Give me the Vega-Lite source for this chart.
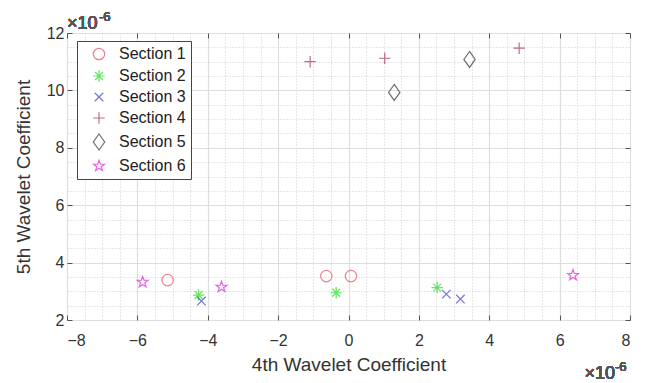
{
  "$schema": "https://vega.github.io/schema/vega-lite/v6.json",
  "autosize": "none",
  "width": 563,
  "height": 287,
  "padding": {"left": 67, "top": 33, "right": 15, "bottom": 63},
  "background": "white",
  "config": {
    "font": "Liberation Sans",
    "view": {"stroke": "#555", "strokeWidth": 1}
  },
  "data": {
    "values": [
      {"section": "Section 1", "x": -5.14, "y": 3.39},
      {"section": "Section 1", "x": -0.63, "y": 3.53},
      {"section": "Section 1", "x": 0.07, "y": 3.53},
      {"section": "Section 2", "x": -4.26, "y": 2.87},
      {"section": "Section 2", "x": -0.35, "y": 2.95},
      {"section": "Section 2", "x": 2.52, "y": 3.13},
      {"section": "Section 3", "x": -4.18, "y": 2.66},
      {"section": "Section 3", "x": 2.78, "y": 2.9},
      {"section": "Section 3", "x": 3.18, "y": 2.73},
      {"section": "Section 4", "x": -1.09, "y": 11.0},
      {"section": "Section 4", "x": 1.03, "y": 11.12},
      {"section": "Section 4", "x": 4.85, "y": 11.47},
      {"section": "Section 5", "x": 1.3, "y": 9.93},
      {"section": "Section 5", "x": 3.44, "y": 11.08},
      {"section": "Section 6", "x": -5.85, "y": 3.32},
      {"section": "Section 6", "x": -3.61, "y": 3.15},
      {"section": "Section 6", "x": 6.38, "y": 3.56}
    ]
  },
  "resolve": {"axis": {"x": "independent", "y": "independent"}},
  "layer": [
    {
      "mark": {"type": "point", "opacity": 0},
      "encoding": {
        "x": {"field": "x", "type": "quantitative", "scale": {"domain": [-8, 8], "nice": false, "zero": false},
          "axis": {"orient": "bottom", "values": [-8,-7.5,-7,-6.5,-6,-5.5,-5,-4.5,-4,-3.5,-3,-2.5,-2,-1.5,-1,-0.5,0,0.5,1,1.5,2,2.5,3,3.5,4,4.5,5,5.5,6,6.5,7,7.5,8],
            "grid": true, "gridDash": [1, 2], "gridColor": "#cfcfcf", "labels": false, "ticks": false, "domain": false, "title": null}},
        "y": {"field": "y", "type": "quantitative", "scale": {"domain": [2, 12], "nice": false, "zero": false},
          "axis": {"orient": "left", "values": [2,2.5,3,3.5,4,4.5,5,5.5,6,6.5,7,7.5,8,8.5,9,9.5,10,10.5,11,11.5,12],
            "grid": true, "gridDash": [1, 2], "gridColor": "#cfcfcf", "labels": false, "ticks": false, "domain": false, "title": null}}
      }
    },
    {
      "mark": {"type": "point", "opacity": 0},
      "encoding": {
        "x": {"field": "x", "type": "quantitative",
          "axis": {"orient": "top", "values": [-8,-6,-4,-2,0,2,4,6,8], "grid": true, "gridColor": "#dedede", "gridWidth": 1.2,
            "labels": false, "ticks": true, "tickSize": -5, "tickColor": "#555", "domain": false, "title": null}},
        "y": {"field": "y", "type": "quantitative",
          "axis": {"orient": "right", "values": [2,4,6,8,10,12], "grid": true, "gridColor": "#dedede", "gridWidth": 1.2,
            "labels": false, "ticks": true, "tickSize": -5, "tickColor": "#555", "domain": false, "title": null}}
      }
    },
    {
      "mark": {"type": "point", "filled": false, "strokeWidth": 1.2, "size": 130},
      "encoding": {
        "x": {"field": "x", "type": "quantitative",
          "axis": {"orient": "bottom", "values": [-8,-6,-4,-2,0,2,4,6,8], "grid": false, "ticks": true, "tickSize": -5, "tickColor": "#555",
            "domain": false, "labelFontSize": 16, "labelColor": "#333", "labelPadding": 17, "title": "4th Wavelet Coefficient",
            "titleFontSize": 19, "titleFontWeight": "normal", "titleColor": "#333", "titlePadding": 7}},
        "y": {"field": "y", "type": "quantitative",
          "axis": {"orient": "left", "values": [2,4,6,8,10,12], "grid": false, "ticks": true, "tickSize": -5, "tickColor": "#555",
            "domain": false, "labelFontSize": 16, "labelColor": "#333", "labelPadding": 8, "title": "5th Wavelet Coefficient",
            "titleFontSize": 19, "titleFontWeight": "normal", "titleColor": "#333", "titlePadding": 13}},
        "color": {"field": "section", "type": "nominal",
          "scale": {"domain": ["Section 1","Section 2","Section 3","Section 4","Section 5","Section 6"],
            "range": ["#e0505e","#22dd22","#3a3acc","#a3304a","#333333","#dd22dd"]},
          "legend": {"title": null, "orient": "none", "legendX": 10, "legendY": 8, "labelFontSize": 16, "labelColor": "#222",
            "strokeColor": "#444", "fillColor": "white", "padding": 5, "rowPadding": 4, "symbolSize": 130, "symbolStrokeWidth": 1.2,
            "symbolOffset": 9, "labelOffset": 12}},
        "shape": {"field": "section", "type": "nominal",
          "scale": {"domain": ["Section 1","Section 2","Section 3","Section 4","Section 5","Section 6"],
            "range": ["circle",
              "M-1,0L1,0M0,-1L0,1M-0.7,-0.7L0.7,0.7M-0.7,0.7L0.7,-0.7",
              "M-0.75,-0.75L0.75,0.75M-0.75,0.75L0.75,-0.75",
              "M-1,0L1,0M0,-1L0,1",
              "M0,-1.4L1,0L0,1.4L-1,0Z",
              "M0,-1L0.235,-0.324L0.951,-0.309L0.38,0.124L0.588,0.809L0,0.4L-0.588,0.809L-0.38,0.124L-0.951,-0.309L-0.235,-0.324Z"]},
          "legend": null}
      }
    },
    {
      "mark": {"type": "text", "align": "left", "baseline": "alphabetic", "dx": 0, "dy": -4, "fontSize": 18, "fontWeight": "normal", "color": "#555"},
      "encoding": {"x": {"datum": -8, "type": "quantitative", "axis": null}, "y": {"datum": 12, "type": "quantitative", "axis": null}, "text": {"value": "×10"}}
    },
    {
      "mark": {"type": "text", "align": "left", "baseline": "alphabetic", "dx": 32, "dy": -12, "fontSize": 13, "fontWeight": "normal", "color": "#555"},
      "encoding": {"x": {"datum": -8, "type": "quantitative", "axis": null}, "y": {"datum": 12, "type": "quantitative", "axis": null}, "text": {"value": "-6"}}
    },
    {
      "mark": {"type": "text", "align": "right", "baseline": "alphabetic", "dx": -15, "dy": 59, "fontSize": 18, "fontWeight": "normal", "color": "#555"},
      "encoding": {"x": {"datum": 8, "type": "quantitative", "axis": null}, "y": {"datum": 2, "type": "quantitative", "axis": null}, "text": {"value": "×10"}}
    },
    {
      "mark": {"type": "text", "align": "left", "baseline": "alphabetic", "dx": -15, "dy": 51, "fontSize": 13, "fontWeight": "normal", "color": "#555"},
      "encoding": {"x": {"datum": 8, "type": "quantitative", "axis": null}, "y": {"datum": 2, "type": "quantitative", "axis": null}, "text": {"value": "-6"}}
    }
  ]
}
